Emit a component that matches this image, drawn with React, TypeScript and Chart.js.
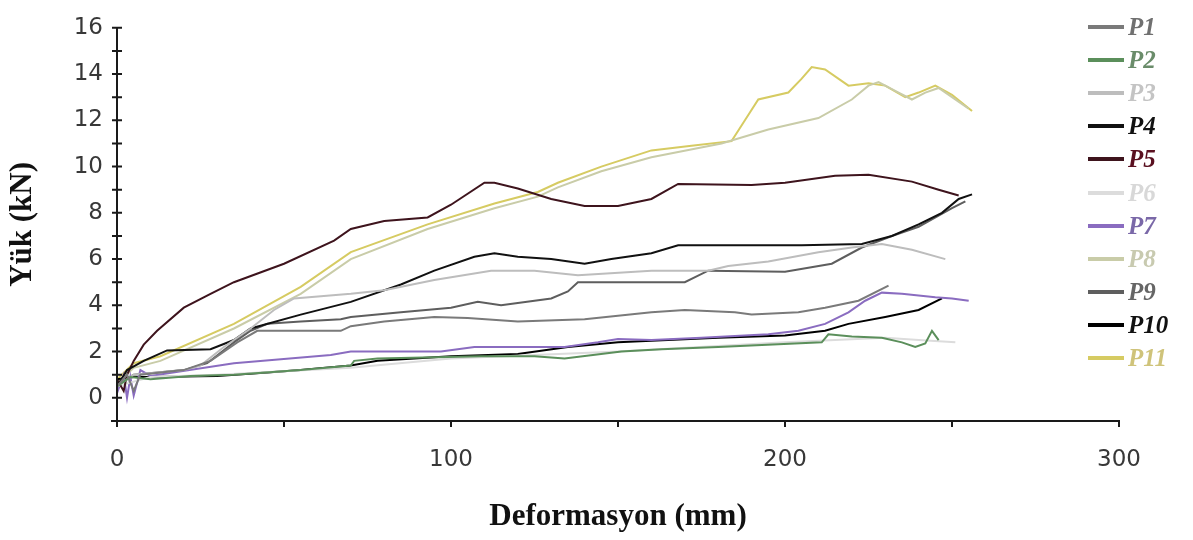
import React, { useEffect, useRef } from "react";
import { Chart, registerables } from "chart.js";

Chart.register(...registerables);

type Pt = [number, number];

// ---- data (Deformasyon mm, Yük kN) ----
const SERIES_NAMES = ["P1", "P2", "P3", "P4", "P5", "P6", "P7", "P8", "P9", "P10", "P11"];

const P1: Pt[] = [
  [0, 0.5], [3, 1.0], [5, 0.3], [7, 1.0], [20, 1.2], [28, 1.6], [36, 2.4], [42, 2.9], [55, 2.9], [67, 2.9],
  [70, 3.1], [80, 3.3], [95, 3.5], [105, 3.45], [120, 3.3], [140, 3.4], [160, 3.7], [170, 3.8], [185, 3.7],
  [190, 3.6], [204, 3.7], [212, 3.9], [222, 4.2], [231, 4.85],
];
const P2: Pt[] = [
  [0, 0.5], [4, 0.9], [10, 0.8], [22, 0.95], [35, 1.0], [55, 1.2], [70, 1.4], [71, 1.6], [78, 1.7], [109, 1.8],
  [125, 1.8], [134, 1.7], [151, 2.0], [163, 2.1], [180, 2.2], [211, 2.4], [213, 2.75], [220, 2.65], [229, 2.6],
  [235, 2.4], [239, 2.2], [242, 2.35], [244, 2.9], [246, 2.5],
];
const P3: Pt[] = [
  [0, 0.5], [5, 1.0], [20, 1.2], [25, 1.4], [32, 2.2], [40, 3.0], [47, 3.8], [53, 4.3], [70, 4.5], [80, 4.65],
  [95, 5.1], [112, 5.5], [125, 5.5], [138, 5.3], [160, 5.5], [177, 5.5], [183, 5.7], [195, 5.9], [210, 6.3],
  [220, 6.5], [229, 6.65], [238, 6.4], [248, 6.0],
];
const P4: Pt[] = [
  [0, 0.5], [3, 1.2], [8, 1.6], [15, 2.05], [28, 2.1], [35, 2.5], [40, 3.0], [55, 3.6], [70, 4.15], [85, 4.9],
  [95, 5.5], [107, 6.1], [113, 6.25], [120, 6.1], [130, 6.0], [140, 5.8], [148, 6.0], [160, 6.25], [168, 6.6],
  [190, 6.6], [205, 6.6], [223, 6.65], [232, 7.0], [240, 7.5], [247, 8.0], [252, 8.6], [256, 8.8],
];
const P5: Pt[] = [
  [0, 0.8], [2, 0.3], [3, 1.0], [5, 1.6], [8, 2.3], [12, 2.9], [20, 3.9], [28, 4.5], [35, 5.0], [50, 5.8],
  [65, 6.8], [70, 7.3], [80, 7.65], [93, 7.8], [100, 8.35], [110, 9.3], [113, 9.3], [120, 9.05], [130, 8.6],
  [140, 8.3], [150, 8.3], [160, 8.6], [168, 9.25], [190, 9.2], [200, 9.3], [215, 9.6], [225, 9.65], [238, 9.35],
  [246, 9.0], [252, 8.75],
];
const P6: Pt[] = [
  [0, 0.5], [10, 0.9], [30, 1.0], [70, 1.3], [100, 1.7], [150, 2.0], [200, 2.4], [230, 2.6], [240, 2.5], [251, 2.4],
];
const P7: Pt[] = [
  [0, 0.2], [2, 1.0], [3, 0.0], [4, 0.9], [5, 0.1], [7, 1.2], [10, 0.95], [35, 1.5], [64, 1.85], [70, 2.0],
  [97, 2.0], [107, 2.2], [134, 2.2], [144, 2.4], [150, 2.55], [160, 2.5], [175, 2.6], [195, 2.75], [204, 2.9],
  [212, 3.2], [219, 3.7], [224, 4.2], [229, 4.55], [235, 4.5], [245, 4.35], [250, 4.3], [255, 4.2],
];
const P8: Pt[] = [
  [0, 0.6], [5, 1.3], [13, 1.6], [35, 3.0], [55, 4.5], [70, 6.0], [93, 7.3], [113, 8.2], [126, 8.7], [132, 9.1],
  [145, 9.8], [160, 10.4], [181, 11.0], [195, 11.6], [210, 12.1], [220, 12.9], [225, 13.5], [228, 13.65],
  [234, 13.2], [238, 12.9], [242, 13.2], [246, 13.4], [250, 13.0], [255, 12.5],
];
const P9: Pt[] = [
  [0, 0.6], [5, 1.0], [20, 1.2], [27, 1.5], [35, 2.4], [40, 2.9], [45, 3.2], [55, 3.3], [67, 3.4], [70, 3.5],
  [85, 3.7], [100, 3.9], [108, 4.15], [115, 4.0], [130, 4.3], [135, 4.6], [138, 5.0], [160, 5.0], [170, 5.0],
  [177, 5.5], [200, 5.45], [214, 5.8], [223, 6.5], [232, 7.0], [240, 7.4], [250, 8.2], [254, 8.5],
];
const P10: Pt[] = [
  [0, 0.8], [5, 0.9], [10, 0.9], [30, 0.95], [45, 1.1], [55, 1.2], [70, 1.4], [78, 1.6], [100, 1.8], [120, 1.9],
  [135, 2.2], [150, 2.4], [165, 2.5], [180, 2.6], [200, 2.7], [212, 2.9], [219, 3.2], [230, 3.5], [240, 3.8],
  [247, 4.3],
];
const P11: Pt[] = [
  [0, 0.8], [5, 1.5], [13, 1.8], [35, 3.2], [55, 4.8], [70, 6.3], [93, 7.5], [113, 8.4], [126, 8.9], [132, 9.3],
  [145, 10.0], [160, 10.7], [172, 10.9], [184, 11.1], [188, 12.0], [192, 12.9], [201, 13.2], [205, 13.8],
  [208, 14.3], [212, 14.2], [219, 13.5], [225, 13.6], [230, 13.5], [236, 13.0], [240, 13.2], [245, 13.5],
  [250, 13.1], [256, 12.4],
];

const SERIES_DATA: Pt[][] = [P1, P2, P3, P4, P5, P6, P7, P8, P9, P10, P11];
const LINE_COLORS = [
  "#7a7a7a", "#5b8f5b", "#bdbdbd", "#111111", "#3e141d", "#dcdcdc",
  "#8a6cc0", "#c9cca8", "#5e5e5e", "#000000", "#d6cb62",
];
const LEGEND_TEXT_COLORS = [
  "#707070", "#6a8c6a", "#c4c4c4", "#111111", "#5a1020", "#d8d8d8",
  "#7a68a8", "#c8cab0", "#666666", "#111111", "#cfc37a",
];

const X_TICKS = [0, 100, 200, 300];
const X_MINOR = [0, 50, 100, 150, 200, 250, 300];
const Y_TICKS = [0, 2, 4, 6, 8, 10, 12, 14, 16];
const Y_MINOR = [0, 1, 2, 3, 4, 5, 6, 7, 8, 9, 10, 11, 12, 13, 14, 15, 16];

const X_TITLE = "Deformasyon (mm)";
const Y_TITLE = "Yük (kN)";

const axisPlugin = {
  id: "excelAxes",
  afterDatasetsDraw(chart: any) {
    const { ctx, chartArea, scales } = chart;
    const { left, top, bottom } = chartArea;
    const xs = scales.x;
    const ys = scales.y;
    ctx.save();
    ctx.strokeStyle = "#1a1a1a";
    ctx.lineWidth = 2;
    ctx.beginPath();
    ctx.moveTo(left, top);
    ctx.lineTo(left, bottom + 6);
    for (const v of Y_MINOR) {
      const py = ys.getPixelForValue(v);
      ctx.moveTo(left - 5, py);
      ctx.lineTo(left + 5, py);
    }
    ctx.moveTo(left - 6, bottom);
    ctx.lineTo(xs.getPixelForValue(300), bottom);
    for (const v of X_MINOR) {
      const px = xs.getPixelForValue(v);
      ctx.moveTo(px, bottom - 1);
      ctx.lineTo(px, bottom + 6);
    }
    ctx.stroke();
    ctx.restore();
  },
};

export default function App() {
  const canvasRef = useRef<HTMLCanvasElement | null>(null);

  useEffect(() => {
    document.body.style.margin = "0";
    const canvas = canvasRef.current;
    if (!canvas) return;
    const chart = new Chart(canvas, {
      type: "line",
      data: {
        datasets: SERIES_DATA.map((pts, i) => ({
          label: SERIES_NAMES[i],
          data: pts.map(([x, y]) => ({ x, y })),
          borderColor: LINE_COLORS[i],
          backgroundColor: LINE_COLORS[i],
          borderWidth: 2,
          pointRadius: 0,
          tension: 0,
          fill: false,
        })),
      },
      options: {
        responsive: false,
        animation: false,
        devicePixelRatio: 1,
        layout: { padding: { left: 0, right: 74, top: 14, bottom: 0 } },
        plugins: {
          legend: { display: false },
          tooltip: { enabled: false },
        },
        scales: {
          x: {
            type: "linear",
            min: 0,
            max: 300,
            grid: { display: false, drawTicks: false },
            border: { display: false },
            afterBuildTicks: (s: any) => {
              s.ticks = X_TICKS.map((v) => ({ value: v }));
            },
            afterFit: (s: any) => {
              s.height = 119;
            },
            ticks: {
              padding: 25,
              maxRotation: 0,
              color: "#383838",
              font: { family: "'DejaVu Sans', Verdana, sans-serif", size: 23 },
            },
            title: {
              display: true,
              text: X_TITLE,
              color: "#111111",
              padding: { top: 0, bottom: 4 },
              font: { family: "'Liberation Serif', 'Times New Roman', serif", size: 31, weight: "bold" },
            },
          },
          y: {
            type: "linear",
            min: -1,
            max: 16,
            grid: { display: false, drawTicks: false },
            border: { display: false },
            afterBuildTicks: (s: any) => {
              s.ticks = Y_TICKS.map((v) => ({ value: v }));
            },
            afterFit: (s: any) => {
              s.width = 117;
            },
            ticks: {
              padding: 14,
              color: "#383838",
              font: { family: "'DejaVu Sans', Verdana, sans-serif", size: 23 },
            },
            title: {
              display: true,
              text: Y_TITLE,
              color: "#111111",
              padding: { top: 4, bottom: 0 },
              font: { family: "'Liberation Serif', 'Times New Roman', serif", size: 31, weight: "bold" },
            },
          },
        },
      },
      plugins: [axisPlugin],
    });
    return () => chart.destroy();
  }, []);

  return (
    <div style={{ position: "relative", width: 1193, height: 540, background: "#fff" }}>
      <canvas ref={canvasRef} width={1193} height={540} style={{ display: "block" }} />
      {SERIES_NAMES.map((name, i) => {
        const cy = 27 + i * 33.1;
        return (
          <div key={name}>
            <div
              style={{
                position: "absolute",
                left: 1088,
                top: cy - 2,
                width: 36,
                height: 4,
                background: LINE_COLORS[i],
              }}
            />
            <div
              style={{
                position: "absolute",
                left: 1128,
                top: cy - 15,
                height: 30,
                lineHeight: "30px",
                fontFamily: "'Liberation Serif', 'Times New Roman', serif",
                fontStyle: "italic",
                fontWeight: "bold",
                fontSize: 25,
                color: LEGEND_TEXT_COLORS[i],
                whiteSpace: "nowrap",
              }}
            >
              {name}
            </div>
          </div>
        );
      })}
    </div>
  );
}
